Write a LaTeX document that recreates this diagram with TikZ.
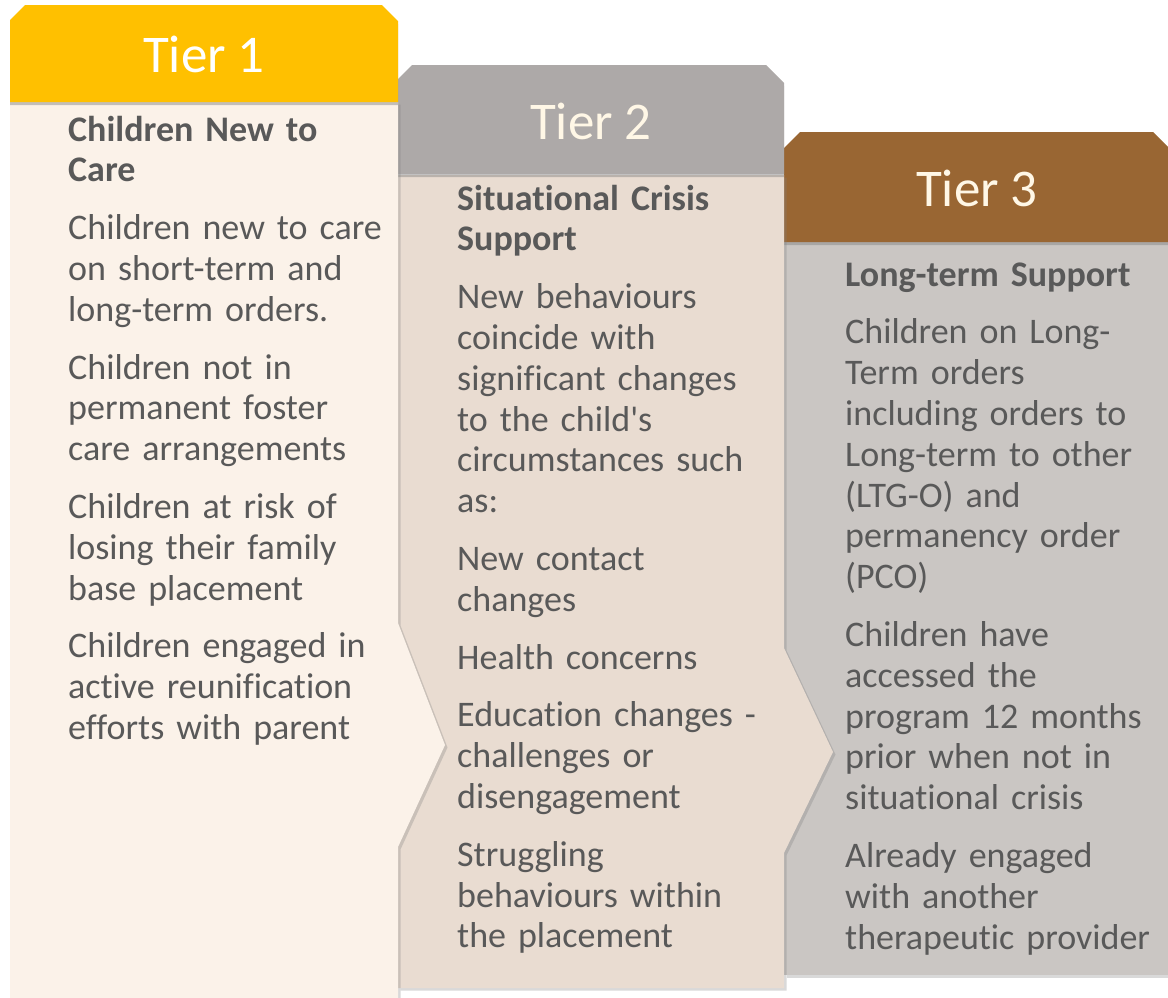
\documentclass[tikz,border=0pt]{standalone}
\usepackage{fontspec}
\setmainfont[Ligatures={NoCommon}]{Carlito}
\newfontfamily\plainquote{Carlito}
\usetikzlibrary{shadows}
\definecolor{tierone}{HTML}{FFC000}
\definecolor{tiertwo}{HTML}{ADA9A8}
\definecolor{tierthree}{HTML}{996633}
\definecolor{bodyone}{HTML}{FBF2E9}
\definecolor{bodytwo}{HTML}{E9DCD1}
\definecolor{bodythree}{HTML}{CAC6C3}
\definecolor{textgray}{HTML}{595959}
\definecolor{cream}{HTML}{FFF7E6}
\newcommand{\pgap}{\\[17pt]}
\newcommand{\hd}[1]{{\bfseries #1}}

\begin{document}
\begin{tikzpicture}[x=1pt,y=-1pt,
    tiertitle/.style={font=\fontsize{53}{60}\selectfont},
    tiertext/.style={anchor=base west, inner sep=0pt, text width=340pt, align=left,
      text=textgray, font=\fontsize{36}{40.8}\selectfont},
    headshadow/.style={drop shadow={opacity=.45, shadow xshift=0pt, shadow yshift=-3pt}},
    bodyshadow/.style={drop shadow={opacity=.3, shadow xshift=2.5pt, shadow yshift=-2.5pt}}]
    \useasboundingbox (0,0) rectangle (1168,997);

    % tier 3 at the back
    \fill[bodythree, bodyshadow] (784,242) -- (1180,242) -- (1180,975) -- (784,975) -- cycle;
    \fill[tierthree, headshadow] (784,148) -- (800,132) -- (1153,132) -- (1170,149)
        -- (1170,242) -- (784,242) -- cycle;

    % tier 2, its point runs into tier 3
    \fill[bodytwo, bodyshadow] (398,175) -- (784,175) -- (784,648) -- (833,752)
        -- (784,853) -- (784,988) -- (398,988) -- cycle;
    \fill[tiertwo, headshadow] (398,79) -- (412,65) -- (766,65) -- (784,83)
        -- (784,174) -- (398,174) -- cycle;

    % tier 1 in front
    \fill[bodyone, bodyshadow] (10,102) -- (398,102) -- (398,623) -- (445,745)
        -- (398,847) -- (398,1010) -- (10,1010) -- cycle;
    \fill[tierone, headshadow] (10,20) -- (25,5) -- (382,5) -- (398,21)
        -- (398,102) -- (10,102) -- cycle;

    % titles
    \node (t1) at (204,54) [tiertitle, text=white] {Tier 1};
    \node (t2) at (591,121) [tiertitle, text=cream] {Tier 2};
    \node (t3) at (977,188) [tiertitle, text=cream] {Tier 3};

    % columns
    \node (c1) at (68,141) [tiertext] {\hd{Children New to}\\\hd{Care}\pgap
        Children new to care\\on short-term and\\long-term orders.\pgap
        Children not in\\permanent foster\\care arrangements\pgap
        Children at risk of\\losing their family\\base placement\pgap
        Children engaged in\\active reunification\\efforts with parent};
    \node (c2) at (457,210) [tiertext] {\hd{Situational Crisis}\\\hd{Support}\pgap
        New behaviours\\coincide with\\significant changes\\to the child{\plainquote'}s\\circumstances such\\as:\pgap
        New contact\\changes\pgap
        Health concerns\pgap
        Education changes -\\challenges or\\disengagement\pgap
        Struggling\\behaviours within\\the placement};
    \node (c3) at (845,286) [tiertext] {\hd{Long-term Support}\pgap
        Children on Long-\\Term orders\\including orders to\\Long-term to other\\(LTG-O) and\\permanency order\\(PCO)\pgap
        Children have\\accessed the\\program 12 months\\prior when not in\\situational crisis\pgap
        Already engaged\\with another\\therapeutic provider};
\end{tikzpicture}
\end{document}
